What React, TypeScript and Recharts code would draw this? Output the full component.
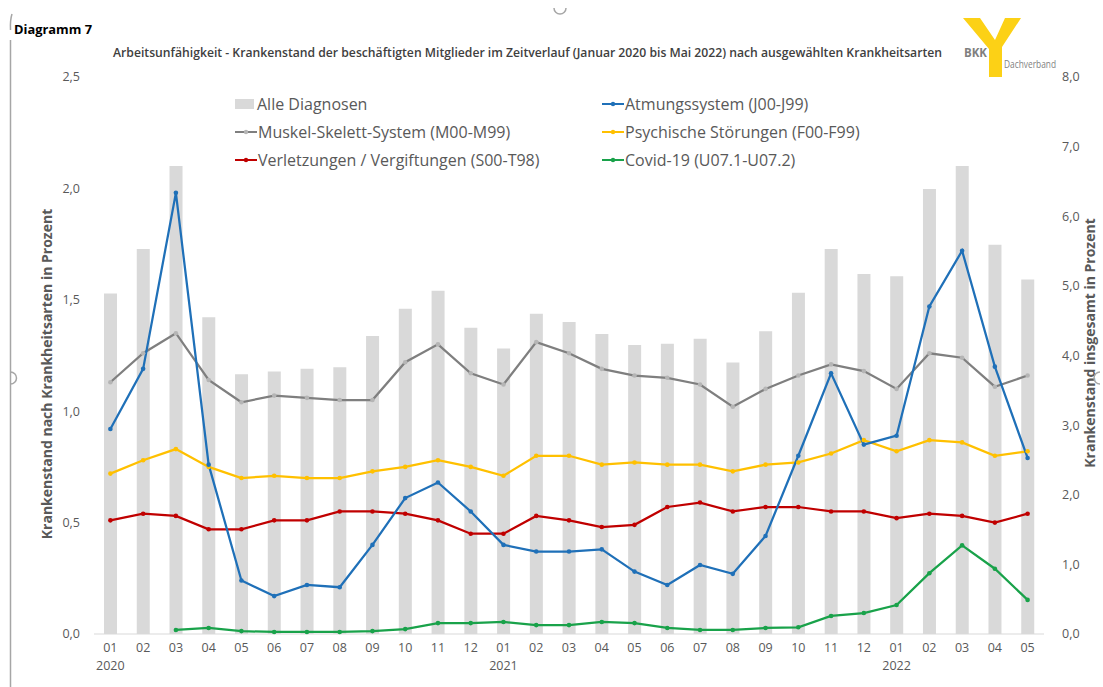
import React from "react"
import { ComposedChart, Bar, Line, XAxis, YAxis } from "recharts"

// Monate Januar 2020 bis Mai 2022
const periods = [
  "2020-01", "2020-02", "2020-03", "2020-04", "2020-05", "2020-06", "2020-07", "2020-08", "2020-09", "2020-10", "2020-11", "2020-12",
  "2021-01", "2021-02", "2021-03", "2021-04", "2021-05", "2021-06", "2021-07", "2021-08", "2021-09", "2021-10", "2021-11", "2021-12",
  "2022-01", "2022-02", "2022-03", "2022-04", "2022-05",
]

// Krankenstand insgesamt (rechte Achse)
const alleDiagnosen = [4.89, 5.53, 6.72, 4.55, 3.73, 3.77, 3.81, 3.83, 4.28, 4.67, 4.93, 4.40, 4.10, 4.60, 4.48, 4.31, 4.15, 4.17, 4.24, 3.90, 4.35, 4.90, 5.53, 5.17, 5.14, 6.39, 6.72, 5.59, 5.09]

// nach Krankheitsarten (linke Achse)
const atmung = [0.92, 1.19, 1.98, 0.76, 0.24, 0.17, 0.22, 0.21, 0.40, 0.61, 0.68, 0.55, 0.40, 0.37, 0.37, 0.38, 0.28, 0.22, 0.31, 0.27, 0.44, 0.80, 1.17, 0.85, 0.89, 1.47, 1.72, 1.20, 0.79]
const muskel = [1.13, 1.26, 1.35, 1.14, 1.04, 1.07, 1.06, 1.05, 1.05, 1.22, 1.30, 1.17, 1.12, 1.31, 1.26, 1.19, 1.16, 1.15, 1.12, 1.02, 1.10, 1.16, 1.21, 1.18, 1.10, 1.26, 1.24, 1.11, 1.16]
const psyche = [0.72, 0.78, 0.83, 0.75, 0.70, 0.71, 0.70, 0.70, 0.73, 0.75, 0.78, 0.75, 0.71, 0.80, 0.80, 0.76, 0.77, 0.76, 0.76, 0.73, 0.76, 0.77, 0.81, 0.87, 0.82, 0.87, 0.86, 0.80, 0.82]
const verletzung = [0.51, 0.54, 0.53, 0.47, 0.47, 0.51, 0.51, 0.55, 0.55, 0.54, 0.51, 0.45, 0.45, 0.53, 0.51, 0.48, 0.49, 0.57, 0.59, 0.55, 0.57, 0.57, 0.55, 0.55, 0.52, 0.54, 0.53, 0.50, 0.54]
const covid = [null, null, 0.018, 0.027, 0.013, 0.009, 0.009, 0.009, 0.013, 0.022, 0.049, 0.049, 0.054, 0.04, 0.04, 0.054, 0.049, 0.027, 0.018, 0.018, 0.027, 0.03, 0.081, 0.094, 0.13, 0.273, 0.398, 0.293, 0.153]

const leftTicks = [0, 0.5, 1, 1.5, 2, 2.5]
const rightTicks = [0, 1, 2, 3, 4, 5, 6, 7, 8]

// Legende in der Reihenfolge der Vorlage (zeilenweise, zwei Spalten)
const legendItems = [
  { key: "alle", name: "Alle Diagnosen", color: "#d9d9d9", type: "bar" },
  { key: "atmung", name: "Atmungssystem (J00-J99)", color: "#1f70b8", type: "line" },
  { key: "muskel", name: "Muskel-Skelett-System (M00-M99)", color: "#7f7f7f", type: "line" },
  { key: "psyche", name: "Psychische Störungen (F00-F99)", color: "#ffc000", type: "line" },
  { key: "verletzung", name: "Verletzungen / Vergiftungen (S00-T98)", color: "#c00000", type: "line" },
  { key: "covid", name: "Covid-19 (U07.1-U07.2)", color: "#19a24a", type: "line" },
]

const data = periods.map((p, i) => ({
  period: p,
  alle: alleDiagnosen[i],
  atmung: atmung[i],
  muskel: muskel[i],
  psyche: psyche[i],
  verletzung: verletzung[i],
  covid: covid[i],
}))

const FONT = "'Open Sans', 'Noto Sans', sans-serif"
const TEXT = "#595959"

const fmt = (v: number) => v.toFixed(1).replace(".", ",")

function MonthTick(props: any) {
  const { x, y, payload } = props
  const [year, month] = String(payload.value).split("-")
  return (
    <g>
      <text x={x} y={y + 18} textAnchor="middle" fill={TEXT} fontSize={12.5} fontFamily={FONT}>
        {month}
      </text>
      {month === "01" && (
        <text x={x} y={y + 36} textAnchor="middle" fill={TEXT} fontSize={12.5} fontFamily={FONT}>
          {year}
        </text>
      )}
    </g>
  )
}

function LegendIcon({ item }: { item: (typeof legendItems)[number] }) {
  if (item.type === "bar") {
    return <div style={{ width: 19, height: 10, background: item.color, marginRight: 3 }} />
  }
  const dotFill = item.key === "muskel" ? "#b5b5b5" : item.color
  return (
    <svg width={22} height={10} style={{ marginRight: 1 }}>
      <line x1={0} y1={5} x2={22} y2={5} stroke={item.color} strokeWidth={2} />
      <circle cx={11} cy={5} r={2.2} fill={dotFill} />
    </svg>
  )
}

export default function App() {
  const lineProps = {
    yAxisId: "left",
    type: "linear" as const,
    strokeWidth: 2.25,
    isAnimationActive: false,
    connectNulls: false,
  }

  return (
    <div style={{ position: "absolute", left: 0, top: 0, width: 1103, height: 687, background: "#fff", overflow: "hidden" }}>
      <ComposedChart
        width={1103}
        height={687}
        data={data}
        margin={{ top: 77, right: 4, left: 34, bottom: 13 }}
        barCategoryGap={0}
      >
        <XAxis
          dataKey="period"
          interval={0}
          tick={<MonthTick />}
          tickSize={0}
          tickMargin={0}
          height={40}
          axisLine={{ stroke: "#d9d9d9", strokeWidth: 1 }}
          tickLine={false}
        />
        <YAxis
          yAxisId="left"
          orientation="left"
          width={60}
          domain={[0, 2.5]}
          ticks={leftTicks}
          tickFormatter={fmt}
          axisLine={false}
          tickLine={false}
          tickMargin={8}
          tick={{ fill: TEXT, fontSize: 12.5, fontFamily: FONT }}
        />
        <YAxis
          yAxisId="right"
          orientation="right"
          width={55}
          domain={[0, 8]}
          ticks={rightTicks}
          tickFormatter={fmt}
          axisLine={false}
          tickLine={false}
          tickMargin={12}
          tick={{ fill: TEXT, fontSize: 12.5, fontFamily: FONT, textAnchor: "start" }}
        />
        <Bar yAxisId="right" dataKey="alle" fill="#d9d9d9" barSize={13} isAnimationActive={false} />
        <Line {...lineProps} dataKey="muskel" stroke="#7f7f7f" dot={{ r: 2.3, fill: "#b5b5b5", stroke: "none" }} />
        <Line {...lineProps} dataKey="psyche" stroke="#ffc000" dot={{ r: 2.3, fill: "#ffc000", stroke: "none" }} />
        <Line {...lineProps} dataKey="verletzung" stroke="#c00000" dot={{ r: 2.3, fill: "#c00000", stroke: "none" }} />
        <Line {...lineProps} dataKey="covid" stroke="#19a24a" dot={{ r: 2.3, fill: "#19a24a", stroke: "none" }} />
        <Line {...lineProps} dataKey="atmung" stroke="#1f70b8" dot={{ r: 2.3, fill: "#1f70b8", stroke: "none" }} />
      </ComposedChart>

      {/* Legende */}
      {legendItems.map((item, i) => {
        const col = i % 2
        const row = Math.floor(i / 2)
        return (
          <div
            key={item.key}
            style={{
              position: "absolute",
              left: col === 0 ? 235 : 602,
              top: 94 + row * 28,
              height: 20,
              display: "flex",
              alignItems: "center",
              fontFamily: FONT,
              fontSize: 16,
              color: TEXT,
              whiteSpace: "nowrap",
            }}
          >
            <LegendIcon item={item} />
            <span>{item.name}</span>
          </div>
        )
      })}

      {/* Titel, Achsentitel, Logo, Rahmen */}
      <svg width={1103} height={687} style={{ position: "absolute", left: 0, top: 0, pointerEvents: "none" }}>
        <text x={14} y={34} fontFamily={FONT} fontSize={12} fontWeight={700} fill="#000" textLength={78} lengthAdjust="spacingAndGlyphs">
          Diagramm 7
        </text>
        <text x={113} y={57} fontFamily={FONT} fontSize={12.5} fontWeight={600} fill="#404040" textLength={829} lengthAdjust="spacingAndGlyphs">
          Arbeitsunfähigkeit - Krankenstand der beschäftigten Mitglieder im Zeitverlauf (Januar 2020 bis Mai 2022) nach ausgewählten Krankheitsarten
        </text>
        <text
          transform="translate(52, 374) rotate(-90)"
          textAnchor="middle"
          fontFamily={FONT}
          fontSize={14}
          fontWeight={700}
          fill={TEXT}
        >
          Krankenstand nach Krankheitsarten in Prozent
        </text>
        <text
          transform="translate(1095, 343) rotate(-90)"
          textAnchor="middle"
          fontFamily={FONT}
          fontSize={14}
          fontWeight={700}
          fill={TEXT}
        >
          Krankenstand insgesamt in Prozent
        </text>

        {/* BKK Logo */}
        <polygon points="963,18 980,18 995,40 1005,18 1021,18 1002,47 1002,77 989,77 989,49" fill="#fcd116" />
        <text x={964} y={57} fontFamily={FONT} fontSize={12} fontWeight={700} fill="#7f7f7f" textLength={23} lengthAdjust="spacingAndGlyphs">
          BKK
        </text>
        <text x={1004} y={68} fontFamily={FONT} fontSize={10.5} fill="#7f7f7f" textLength={52} lengthAdjust="spacingAndGlyphs">
          Dachverband
        </text>

        {/* Rahmen des Diagrammobjekts */}
        <line x1={10.5} y1={40} x2={10.5} y2={687} stroke="#a6a6a6" strokeWidth={1.5} />
        <path d="M 12 14 Q 10 20 10.5 30" stroke="#a6a6a6" strokeWidth={1.5} fill="none" />
        <path d="M 554 8 A 6 6 0 0 0 566 8" stroke="#a6a6a6" strokeWidth={1.5} fill="none" />
        <path d="M 10.5 372 A 6 6 0 0 1 10.5 384" stroke="#a6a6a6" strokeWidth={1.5} fill="none" />
        <path d="M 1100 372 A 6 6 0 0 0 1100 384" stroke="#a6a6a6" strokeWidth={1.5} fill="none" />
      </svg>
    </div>
  )
}
